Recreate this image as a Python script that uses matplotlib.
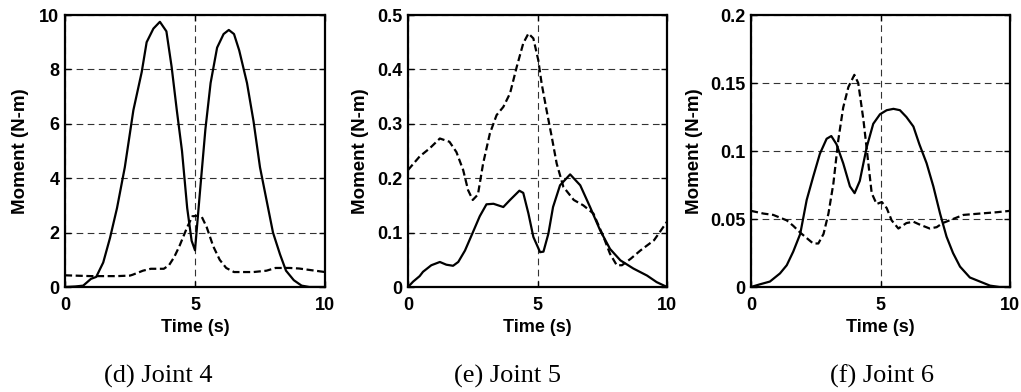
import matplotlib
matplotlib.use("Agg")
import matplotlib.pyplot as plt

# ---------------- data ----------------
# Joint 4
t4_solid = [0, 0.4, 0.7, 1.0, 1.2, 1.47, 1.73, 2.0, 2.3, 2.63, 2.95, 3.14, 3.4, 3.65, 3.9, 4.1, 4.3,
            4.5, 4.7, 4.87, 5.0, 5.2, 5.4, 5.6, 5.85, 6.1, 6.3, 6.5, 6.7, 7.0, 7.25, 7.5, 7.75,
            8.0, 8.27, 8.5, 8.8, 9.1, 9.4, 10]
m4_solid = [0.0, 0.02, 0.05, 0.3, 0.37, 0.9, 1.8, 2.9, 4.4, 6.5, 7.9, 9.0, 9.5, 9.75, 9.4, 8.1, 6.5,
            5.0, 2.9, 1.7, 1.35, 3.6, 5.8, 7.5, 8.8, 9.3, 9.45, 9.3, 8.7, 7.5, 6.1, 4.4, 3.2,
            2.0, 1.2, 0.6, 0.25, 0.05, 0.0, 0.0]
t4_dash = [0, 1.0, 2.0, 2.5, 2.6, 3.0, 3.3, 3.8, 4.0, 4.2, 4.4, 4.7, 4.9, 5.1, 5.25, 5.45, 5.7,
           5.95, 6.2, 6.5, 7.25, 7.75, 8.1, 8.65, 9.0, 10]
m4_dash = [0.43, 0.4, 0.4, 0.42, 0.45, 0.6, 0.67, 0.67, 0.8, 1.1, 1.5, 2.2, 2.6, 2.62, 2.6, 2.2, 1.5,
           1.0, 0.7, 0.55, 0.55, 0.6, 0.7, 0.7, 0.68, 0.55]

# Joint 5
t5_solid = [0, 0.2, 0.45, 0.58, 0.9, 1.23, 1.48, 1.74, 1.94, 2.2, 2.5, 2.77, 3.03, 3.3, 3.68, 3.94,
            4.3, 4.45, 4.65, 4.84, 5.1, 5.23, 5.42, 5.6, 5.87, 6.26, 6.65, 7.03, 7.42, 7.8, 8.2,
            8.7, 9.23, 9.6, 10]
m5_solid = [0.0, 0.01, 0.02, 0.028, 0.04, 0.046, 0.041, 0.039, 0.046, 0.067, 0.10, 0.13, 0.152,
            0.153, 0.147, 0.16, 0.177, 0.173, 0.135, 0.092, 0.064, 0.065, 0.098, 0.147, 0.187,
            0.207, 0.187, 0.147, 0.104, 0.07, 0.049, 0.034, 0.021, 0.009, 0.0]
t5_dash = [0, 0.45, 0.84, 1.23, 1.6, 1.87, 2.13, 2.32, 2.5, 2.7, 2.9, 3.16, 3.42, 3.68, 3.94, 4.2,
           4.45, 4.65, 4.84, 5.03, 5.16, 5.35, 5.55, 5.74, 6.0, 6.4, 6.77, 7.16, 7.55, 7.8, 8.06,
           8.26, 8.6, 8.97, 9.5, 10]
m5_dash = [0.215, 0.24, 0.255, 0.273, 0.267, 0.248, 0.215, 0.178, 0.16, 0.17, 0.227, 0.282, 0.316,
           0.331, 0.356, 0.405, 0.448, 0.466, 0.457, 0.417, 0.374, 0.325, 0.276, 0.227, 0.184,
           0.16, 0.15, 0.135, 0.092, 0.061, 0.04, 0.04, 0.052, 0.067, 0.086, 0.12]

# Joint 6
t6_solid = [0, 0.35, 0.73, 1.12, 1.38, 1.63, 1.9, 2.15, 2.4, 2.66, 2.92, 3.1, 3.3, 3.56, 3.82, 4.0,
            4.2, 4.47, 4.72, 4.98, 5.24, 5.5, 5.75, 6.0, 6.27, 6.5, 6.78, 7.04, 7.3, 7.55, 7.8,
            8.07, 8.45, 8.84, 9.23, 9.6, 10]
m6_solid = [0.0, 0.002, 0.004, 0.01, 0.016, 0.026, 0.039, 0.064, 0.081, 0.098, 0.109, 0.111, 0.105,
            0.091, 0.074, 0.069, 0.078, 0.103, 0.12, 0.127, 0.13, 0.131, 0.13, 0.125, 0.118,
            0.105, 0.091, 0.074, 0.054, 0.037, 0.025, 0.015, 0.007, 0.004, 0.001, 0.0, 0.0]
t6_dash = [0, 0.48, 0.86, 1.12, 1.38, 1.63, 1.9, 2.15, 2.4, 2.6, 2.8, 2.99, 3.18, 3.37, 3.56, 3.76,
           3.99, 4.14, 4.34, 4.53, 4.66, 4.85, 5.05, 5.24, 5.43, 5.69, 6.0, 6.27, 6.5, 6.9, 7.17,
           7.4, 7.8, 8.2, 8.84, 9.5, 10]
m6_dash = [0.056, 0.054, 0.053, 0.051, 0.049, 0.045, 0.04, 0.036, 0.032, 0.032, 0.039, 0.054,
           0.076, 0.108, 0.132, 0.147, 0.156, 0.15, 0.123, 0.091, 0.069, 0.061, 0.0625, 0.058,
           0.049, 0.043, 0.047, 0.048, 0.046, 0.043, 0.044, 0.047, 0.05, 0.053, 0.054, 0.055, 0.056]

x_ticks = [0, 5, 10]
y_ticks4 = [0, 2, 4, 6, 8, 10]
y_ticks5 = [0, 0.1, 0.2, 0.3, 0.4, 0.5]
y_ticks6 = [0, 0.05, 0.1, 0.15, 0.2]
y_labels4 = ["0", "2", "4", "6", "8", "10"]
y_labels5 = ["0", "0.1", "0.2", "0.3", "0.4", "0.5"]
y_labels6 = ["0", "0.05", "0.1", "0.15", "0.2"]
captions = ["(d) Joint 4", "(e) Joint 5", "(f) Joint 6"]

# ---------------- figure ----------------
plt.rcParams['font.family'] = ['Liberation Sans', 'DejaVu Sans']
fig = plt.figure(figsize=(10.21, 3.92), dpi=100)

W, H = 1021, 392
panels = [
    (65, 325, t4_solid, m4_solid, t4_dash, m4_dash, y_ticks4, y_labels4, 158, 7.5),
    (408, 667, t5_solid, m5_solid, t5_dash, m5_dash, y_ticks5, y_labels5, 507, 6),
    (751, 1010, t6_solid, m6_solid, t6_dash, m6_dash, y_ticks6, y_labels6, 882, 5),
]
top_px, bot_px = 15, 287

for i, (l, r, ts, ms, td, md, yt, yl, cx, ylp) in enumerate(panels):
    ax = fig.add_axes([l / W, 1 - bot_px / H, (r - l) / W, (bot_px - top_px) / H])
    ax.plot(ts, ms, color='black', lw=1.6, solid_joinstyle='round')
    ax.plot(td, md, color='black', lw=1.6, dashes=(3.2, 1.6))
    ax.set_xlim(0, 10)
    ax.set_ylim(yt[0], yt[-1])
    ax.set_xticks(x_ticks)
    ax.set_xticklabels([str(v) for v in x_ticks])
    ax.set_yticks(yt)
    ax.set_yticklabels(yl)
    ax.grid(True, color='0.2', lw=0.8, dashes=(6, 4))
    for s in ax.spines.values():
        s.set_linewidth(1.6)
    ax.tick_params(direction='in', length=4, width=1, top=True, right=True,
                   labelsize=13)
    ax.tick_params(axis='x', pad=7)
    ax.tick_params(axis='y', pad=4)
    for lab in ax.get_xticklabels() + ax.get_yticklabels():
        lab.set_fontweight('bold')
    ax.set_xlabel('Time (s)', fontsize=13, fontweight='bold', labelpad=4)
    ax.set_ylabel('Moment (N-m)', fontsize=13.5, fontweight='bold', labelpad=ylp)
    fig.text(cx / W, 1 - 383 / H, captions[i], ha='center', va='baseline',
             fontsize=19, family=['Liberation Serif', 'DejaVu Serif'])

fig.savefig('out.png', dpi=100)
